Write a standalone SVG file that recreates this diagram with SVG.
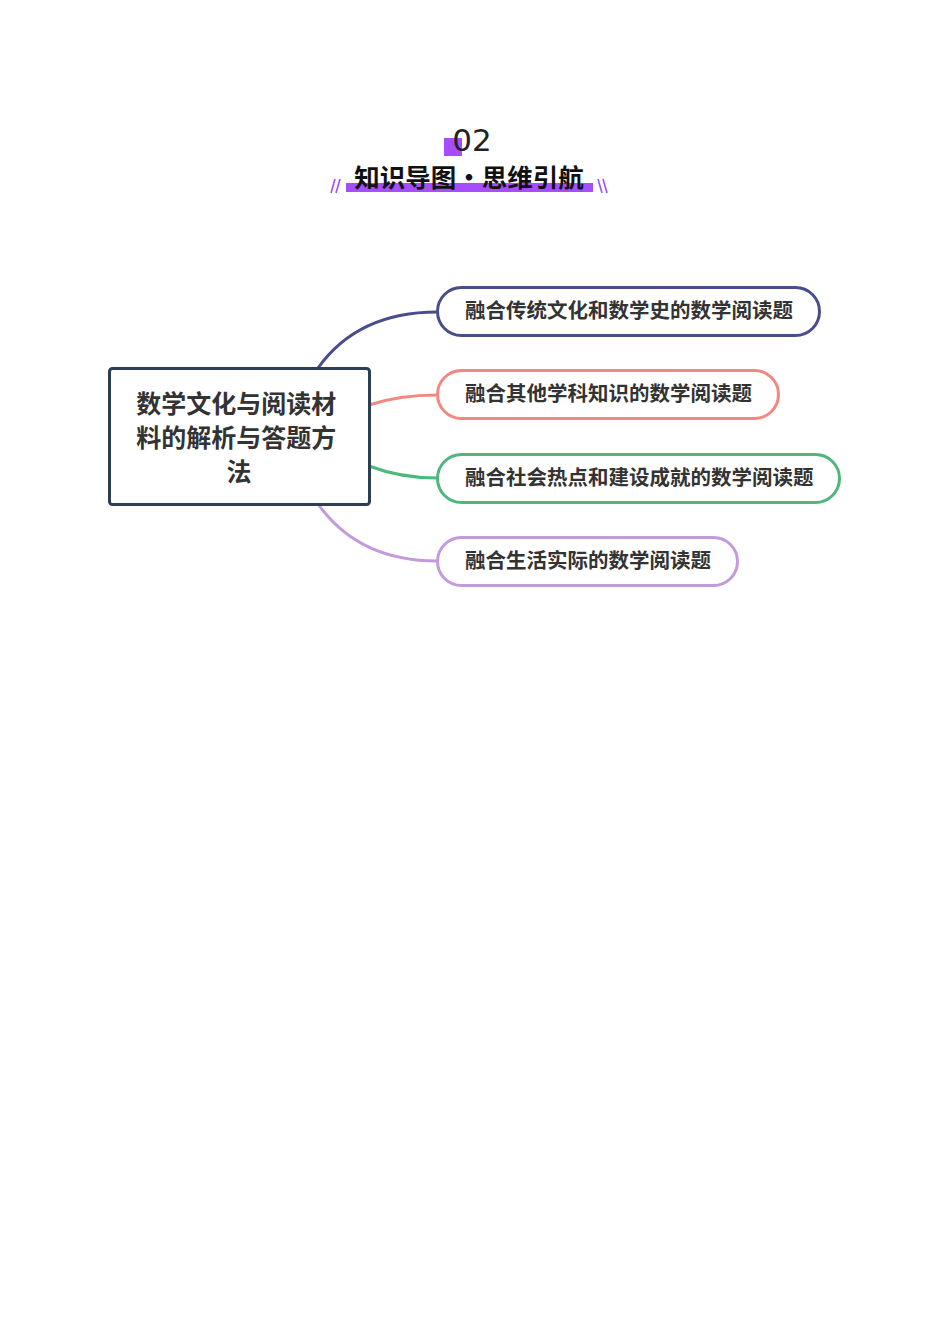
<svg xmlns="http://www.w3.org/2000/svg" width="950" height="1344" viewBox="0 0 950 1344">
<style>
.cjk{font-family:"Noto Sans CJK SC","Noto Sans",sans-serif;font-weight:bold;fill:#333}
.child{fill:#fff;stroke-width:3}
.conn{fill:none;stroke-width:3}
.slash{stroke:#a64dff;stroke-width:1.6}
</style>
<rect width="950" height="1344" fill="#fff"/>
<g id="header">
<rect x="444" y="138" width="18" height="18" fill="#a64dff"/>
<text x="472" y="151" font-family="DejaVu Sans, sans-serif" font-size="31" fill="#222" text-anchor="middle">02</text>
<rect x="346" y="183" width="247" height="9" fill="#a64dff"/>
<text x="469" y="187" class="cjk" font-size="25.5" style="fill:#111" text-anchor="middle">知识导图•思维引航</text>
<line class="slash" x1="331" y1="193" x2="335" y2="179"/>
<line class="slash" x1="336" y1="193" x2="340" y2="179"/>
<line class="slash" x1="598" y1="179" x2="602" y2="193"/>
<line class="slash" x1="603" y1="179" x2="607" y2="193"/>
</g>
<g id="connectors">
<path class="conn" stroke="#4a4d8c" d="M318,368 C348,326 390,312 437,312"/>
<path class="conn" stroke="#f28880" d="M369,405 C390,398 410,395 437,395"/>
<path class="conn" stroke="#4cb87c" d="M369,466 C390,474 410,478 437,478"/>
<path class="conn" stroke="#c39bdc" d="M318,504 C348,546 390,561 437,561"/>
</g>
<g id="central">
<rect x="109.5" y="368.5" width="260" height="136" rx="3" fill="#fff" stroke="#2b3e54" stroke-width="3"/>
<text class="cjk" font-size="25" text-anchor="middle">
<tspan x="239" y="413">数学文化与阅读材</tspan>
<tspan x="239" y="447">料的解析与答题方</tspan>
<tspan x="239" y="481">法</tspan>
</text>
</g>
<g id="node1">
<rect class="child" x="437.5" y="287.5" width="382" height="48" rx="24" stroke="#4a4d8c"/>
<text class="cjk" x="465" y="318" font-size="20.5">融合传统文化和数学史的数学阅读题</text>
</g>
<g id="node2">
<rect class="child" x="437.5" y="370.5" width="341" height="48" rx="24" stroke="#f28880"/>
<text class="cjk" x="465" y="401" font-size="20.5">融合其他学科知识的数学阅读题</text>
</g>
<g id="node3">
<rect class="child" x="437.5" y="454.5" width="402" height="48" rx="24" stroke="#4cb87c"/>
<text class="cjk" x="465" y="485" font-size="20.5">融合社会热点和建设成就的数学阅读题</text>
</g>
<g id="node4">
<rect class="child" x="437.5" y="537.5" width="300" height="48" rx="24" stroke="#c39bdc"/>
<text class="cjk" x="465" y="568" font-size="20.5">融合生活实际的数学阅读题</text>
</g>
</svg>
